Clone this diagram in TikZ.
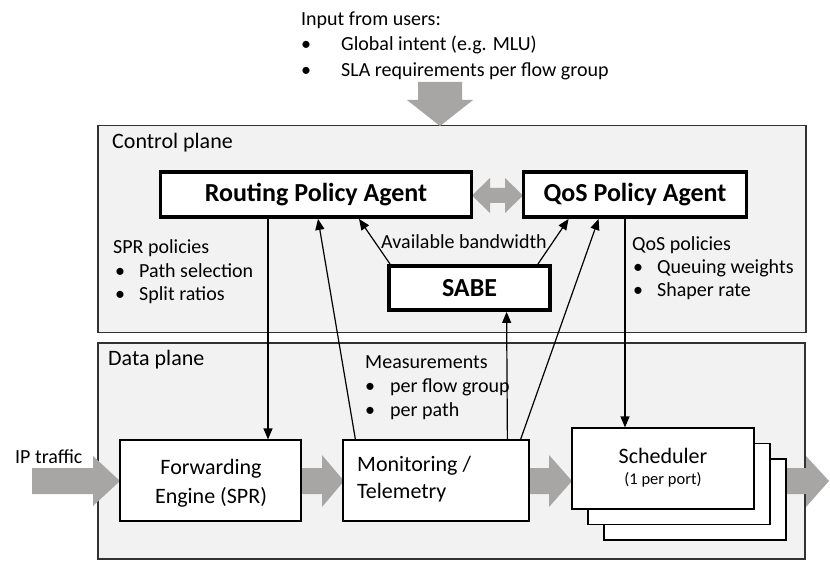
\documentclass[tikz,border=0pt]{standalone}
\usepackage{fontspec}
\setmainfont{Carlito}
\usetikzlibrary{arrows.meta,calc}
\definecolor{planefill}{RGB}{242,242,242}
\definecolor{arrowgray}{RGB}{168,166,165}
\definecolor{planeline}{RGB}{50,50,50}
\begin{document}
\begin{tikzpicture}[x=1pt,y=-1pt,
  txt/.style={inner sep=0pt, anchor=base west, font=\fontsize{20}{24}\selectfont},
  bigtxt/.style={inner sep=0pt, anchor=base west, font=\fontsize{22}{26}\selectfont},
  plane/.style={draw=planeline, line width=1.5pt, fill=planefill, inner sep=0pt, anchor=north west},
  agent/.style={draw, line width=3.8pt, fill=white, inner sep=0pt, font=\bfseries\fontsize{26}{30}\selectfont},
  dbox/.style={draw, line width=1.2pt, fill=white, inner sep=0pt, font=\fontsize{22}{26}\selectfont},
  link/.style={line width=1.2pt, -{Triangle[length=11pt,width=9pt]}},
  garrow/.style={fill=arrowgray, draw=none}]
\useasboundingbox (0,0) rectangle (830,561);
\fill[white] (0,0) rectangle (830,561);

% planes
\node[plane, minimum width=708pt, minimum height=207pt] (cp) at (97,125) {};
\node[plane, minimum width=707pt, minimum height=216pt] (dp) at (97,342) {};

% input text
\node[txt] (in0) at (301,25.5) {Input from users:};
\node[txt] (inb1) at (301,51) {•};
\node[txt] (in1) at (341,51) {Global intent (e.g. MLU)};
\node[txt] (inb2) at (301,76.5) {•};
\node[txt] (in2) at (341,76.5) {SLA requirements per flow group};

% input down arrow
\fill[garrow] (418,82) -- (462,82) -- (462,100) -- (473,100) -- (440,126) -- (407,100) -- (418,100) -- cycle;

% control plane content
\node[bigtxt] (cpl) at (112,149) {Control plane};
\fill[garrow] (472,195.5) -- (490,178) -- (490,188) -- (505,188) -- (505,178) -- (523,195.5) -- (505,213) -- (505,203) -- (490,203) -- (490,213) -- cycle;
\node[agent, minimum width=311pt, minimum height=45pt] (rpa) at (316,194.5) {Routing Policy Agent};
\node[agent, minimum width=223pt, minimum height=45pt] (qos) at (635,194.5) {QoS Policy Agent};
\node[agent, minimum width=161pt, minimum height=44pt] (sabe) at (469.5,288) {SABE};

\node[txt] (spr0) at (113,254) {SPR policies};
\node[txt] (sprb1) at (115,278) {•};
\node[txt] (spr1) at (139,278) {Path selection};
\node[txt] (sprb2) at (115,301) {•};
\node[txt] (spr2) at (139,301) {Split ratios};

\node[txt] (qp0) at (632,251) {QoS policies};
\node[txt] (qpb1) at (633,274) {•};
\node[txt] (qp1) at (657,274) {Queuing weights};
\node[txt] (qpb2) at (633,297) {•};
\node[txt] (qp2) at (657,297) {Shaper rate};

\node[txt, anchor=base] (avb) at (464,249) {Available bandwidth};

% data plane content
\node[bigtxt] (dpl) at (108,366) {Data plane};
\node[txt] (ms0) at (365,368) {Measurements};
\node[txt] (msb1) at (365,392) {•};
\node[txt] (ms1) at (390,392) {per flow group};
\node[txt] (msb2) at (365,416) {•};
\node[txt] (ms2) at (390,416) {per path};

\node[txt] (ipl) at (15,463) {IP traffic};

% gray flow arrows
\fill[garrow] (32,468) -- (93,468) -- (93,456) -- (120,481) -- (93,506) -- (93,494) -- (32,494) -- cycle;
\fill[garrow] (301,468) -- (322,468) -- (322,455) -- (344,481) -- (322,507) -- (322,494) -- (301,494) -- cycle;
\fill[garrow] (529,468) -- (549,468) -- (549,455) -- (572,481) -- (549,507) -- (549,494) -- (529,494) -- cycle;
\fill[garrow] (786,468) -- (806,468) -- (806,456) -- (829,481) -- (806,507) -- (806,494) -- (786,494) -- cycle;

% data boxes
\node[dbox, minimum width=181pt, minimum height=81pt, align=center] (fe) at (210.5,480.5) {};
\node[dbox, minimum width=186pt, minimum height=81pt] (mon) at (436,480.5) {};
\node[dbox, minimum width=182pt, minimum height=81pt] (sch3) at (695,499.5) {};
\node[dbox, minimum width=182pt, minimum height=81pt] (sch2) at (679,484) {};
\node[dbox, minimum width=182pt, minimum height=81pt] (sch1) at (663,468.5) {};

\node[inner sep=0pt, anchor=base, font=\fontsize{22}{26}\selectfont] (fe1) at (211,474) {Forwarding};
\node[inner sep=0pt, anchor=base, font=\fontsize{22}{26}\selectfont] (fe2) at (211,503) {Engine (SPR)};
\node[inner sep=0pt, anchor=base west, font=\fontsize{22}{26}\selectfont] (mo1) at (357,471) {Monitoring /};
\node[inner sep=0pt, anchor=base west, font=\fontsize{22}{26}\selectfont] (mo2) at (357,498) {Telemetry};
\node[inner sep=0pt, anchor=base, font=\fontsize{22}{26}\selectfont] (sc1) at (663,463) {Scheduler};
\node[inner sep=0pt, anchor=base, font=\fontsize{16.5}{20}\selectfont] (sc2) at (663,484) {(1 per port)};

% connectors
\coordinate (xa) at (268,0);
\coordinate (xg) at (625,0);
\draw[link] (rpa.south -| xa) -- (fe.north -| xa);
\draw[link] ($(mon.north west)+(13,0)$) -- ($(rpa.south)+(2,0)$);
\draw[link] ($(sabe.north west)+(3,0)$) -- ($(rpa.south)+(43,0)$);
\draw[link] ($(sabe.north east)+(-14,0)$) -- ($(qos.south west)+(47,0)$);
\draw[link] ($(mon.north east)+(-9,0)$) -- ($(qos.south west)+(77,0)$);
\draw[link] ($(mon.north west)+(165,0)$) -- ($(sabe.south west)+(119.5,0)$);
\draw[link] (qos.south -| xg) -- (sch1.north -| xg);
\end{tikzpicture}
\end{document}
